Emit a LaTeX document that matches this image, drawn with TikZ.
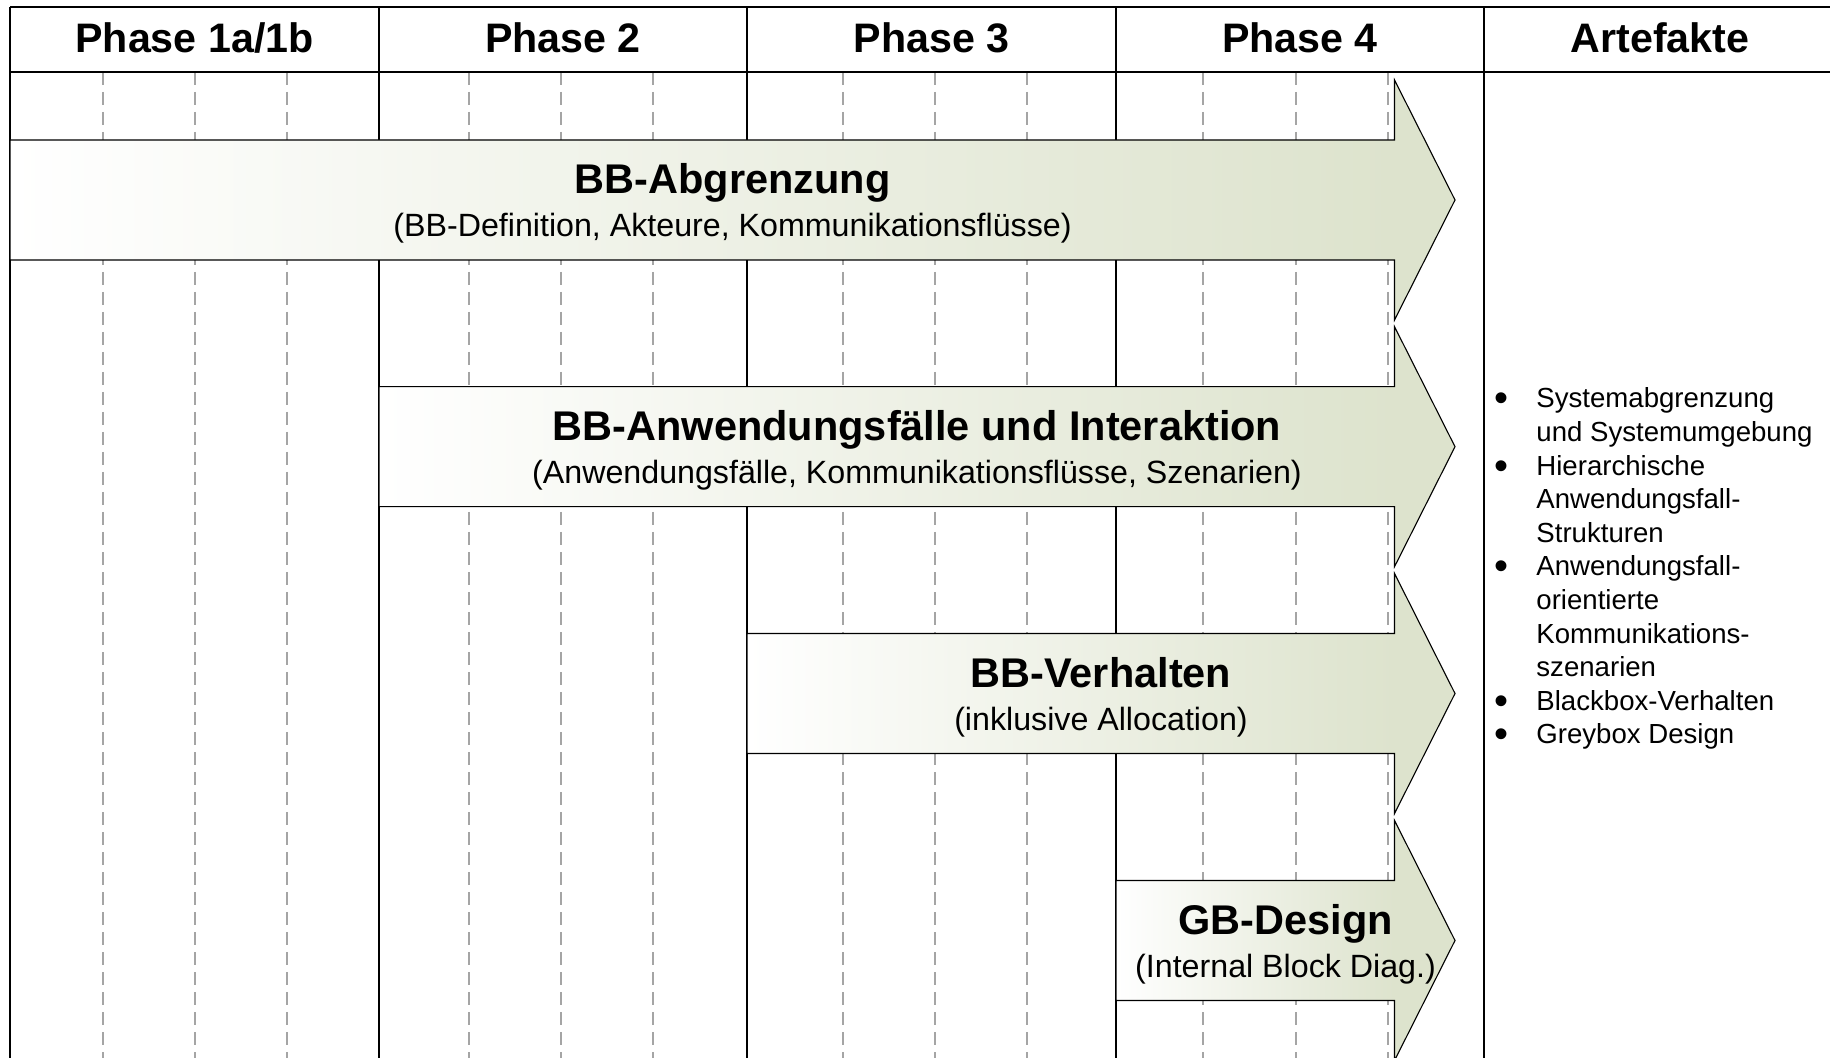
\documentclass[tikz,border=0pt]{standalone}
\usepackage{fontspec}
\setmainfont{Liberation Sans}
\usepackage{array}
\definecolor{olivec}{RGB}{221,227,205}
\definecolor{dashgray}{RGB}{165,165,165}
\newcommand\bbarrow[2]{%
  \begin{scope}
    \clip (#1,#2-60) -- (1394.5,#2-60) -- (1394.5,#2-120) -- (1455,#2) -- (1394.5,#2+120) -- (1394.5,#2+60) -- (#1,#2+60) -- cycle;
    \shade[left color=white,right color=olivec] (#1,#2-121) rectangle (1394.5,#2+121);
    \fill[olivec] (1394.5,#2-121) rectangle (1456,#2+121);
  \end{scope}
  \draw[arrowshape] (#1,#2-60) -- (1394.5,#2-60) -- (1394.5,#2-120) -- (1455,#2) -- (1394.5,#2+120) -- (1394.5,#2+60) -- (#1,#2+60) -- cycle;
}
\newcommand\bigbul{\raisebox{-0.14em}{\scalebox{1.45}{•}}}
\begin{document}
\begin{tikzpicture}[x=0.5pt,y=-0.5pt,
  colline/.style={line width=1pt,black},
  gridline/.style={dashgray,line width=0.7pt,dash pattern=on 6.5pt off 3.5pt},
  arrowshape/.style={black,line width=0.55pt,line join=miter},
  headtxt/.style={font=\fontsize{20.6}{24}\selectfont\bfseries,inner sep=0pt,anchor=base},
  titletxt/.style={font=\fontsize{20.75}{24}\selectfont\bfseries,inner sep=0pt,anchor=base},
  subtxt/.style={font=\fontsize{16.1}{19}\selectfont,inner sep=0pt,anchor=base}]
\useasboundingbox (0,0) rectangle (1830,1058);
\fill[white] (0,0) rectangle (1830,1058);
\clip (0,0) rectangle (1830,1058);
% dashed sub-grid
\foreach \x in {103,195,287,469,561,653,843,935,1027,1203,1296,1388}
  \draw[gridline] (\x,72) -- (\x,1058);
% column lines
\foreach \x in {379,747,1116,1484}
  \draw[colline] (\x,7) -- (\x,1058);
\draw[line width=1.3pt] (10,7) -- (10,1058);
% arrows
\bbarrow{10}{200}
\bbarrow{379}{446.7}
\bbarrow{747}{693.5}
\bbarrow{1116}{940.5}
% header
\draw[colline] (10,7) -- (1830,7);
\draw[colline] (10,72) -- (1830,72);
\node[headtxt] (h1) at (194.5,52.7) {Phase 1a/1b};
\node[headtxt] (h2) at (563,52.7) {Phase 2};
\node[headtxt] (h3) at (931.5,52.7) {Phase 3};
\node[headtxt] (h4) at (1300,52.7) {Phase 4};
\node[headtxt] (hA) at (1660,52.7) {Artefakte};
% arrow texts
\node[titletxt] (t1) at (732.5,194) {BB-Abgrenzung};
\node[subtxt] (s1) at (732.5,237) {(BB-Definition, Akteure, Kommunikationsflüsse)};
\node[titletxt] (t2) at (917,440.7) {BB-Anwendungsfälle und Interaktion};
\node[subtxt] (s2) at (917,483.5) {(Anwendungsfälle, Kommunikationsflüsse, Szenarien)};
\node[titletxt] (t3) at (1101,687.5) {BB-Verhalten};
\node[subtxt] (s3) at (1101,730.5) {(inklusive Allocation)};
\node[titletxt] (t4) at (1285.5,934.5) {GB-Design};
\node[subtxt] (s4) at (1285.5,977.5) {(Internal Block Diag.)};
% artefacts list
\node[inner sep=0pt,anchor=base west,font=\fontsize{13.8}{16.8}\selectfont] (art) at (1494,408) {%
\begin{tabular}[t]{@{}p{21pt}@{}l@{}}
\bigbul & Systemabgrenzung\\
  & und Systemumgebung\\
\bigbul & Hierarchische\\
  & Anwendungsfall-\\
  & Strukturen\\
\bigbul & Anwendungsfall-\\
  & orientierte\\
  & Kommunikations-\\
  & szenarien\\
\bigbul & Blackbox-Verhalten\\
\bigbul & Greybox Design
\end{tabular}};
\end{tikzpicture}
\end{document}
